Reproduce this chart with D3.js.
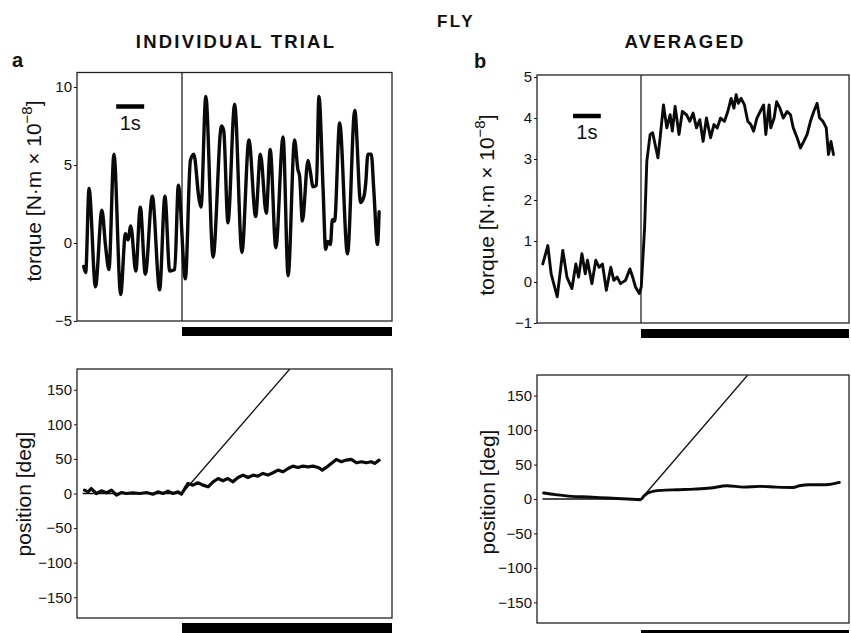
<!DOCTYPE html>
<html>
<head>
<meta charset="utf-8">
<script src="https://cdn.jsdelivr.net/npm/d3@7"></script>
<style>
  body { margin: 0; background: #fff; }
  svg { display: block; font-family: "Liberation Sans", Arial, Helvetica, sans-serif; }
</style>
</head>
<body>
<svg></svg>
<script>
// time in seconds from left edge of each panel, stimulus onset at 3.75 s
const stimOnset = 3.75;
const timeEnd = 11.25;

// a: individual trial torque [N·m × 10^-8]
const trialTorqueT = [0.24, 0.31, 0.43, 0.66, 0.89, 1.02, 1.14, 1.32, 1.56, 1.73, 1.82, 1.92, 2.1, 2.26, 2.44, 2.69, 2.95, 3.14, 3.31, 3.49, 3.62, 3.87,
  4.05, 4.17, 4.36, 4.43, 4.6, 4.86, 5.16, 5.24, 5.39, 5.63, 5.89, 6.14, 6.38, 6.55, 6.76, 6.9, 7.1, 7.36, 7.54, 7.77, 7.89, 7.95, 8.05,
  8.25, 8.33, 8.43, 8.55, 8.64, 8.79, 8.88, 8.96, 9.05, 9.12, 9.2, 9.38, 9.66, 9.92, 10.13, 10.25, 10.31, 10.39, 10.51, 10.6, 10.73, 10.79];
const trialTorqueV = [-1.5, -1.9, 3.5, -2.8, 2.1, -0.2, -1.7, 5.7, -3.3, 0.6, 0.2, 1.1, -1.8, 2.3, -2.0, 3.0, -3.0, 3.0, -1.8, -1.7, 3.7, -2.3,
  5.3, 5.7, 2.8, 2.3, 9.4, -0.9, 7.5, 7.2, 1.3, 8.9, -0.6, 6.6, 1.7, 5.7, 1.9, 6.0, -0.3, 6.8, -2.1, 6.6, 4.7, 4.3, 1.4,
  5.3, 4.6, 3.6, 3.7, 9.4, 3.4, -0.4, 0.1, -0.1, 1.5, 1.4, 7.7, -0.7, 8.5, 2.6, 3.0, 3.8, 5.7, 5.7, 3.4, -0.1, 2.0];

// b: averaged torque
const avgTorqueT = [0.21, 0.39, 0.51, 0.73, 0.93, 1.08, 1.26, 1.4, 1.5, 1.62, 1.74, 1.82, 1.98, 2.12, 2.24, 2.36, 2.5, 2.66, 2.77, 2.89,
  3.01, 3.19, 3.35, 3.45, 3.55, 3.69, 3.76, 3.88, 3.96, 4.08, 4.17, 4.36, 4.44, 4.56, 4.68, 4.8, 4.88, 4.98, 5.12, 5.24, 5.39, 5.51,
  5.63, 5.75, 5.87, 5.99, 6.11, 6.26, 6.38, 6.5, 6.62, 6.76, 6.88, 7.0, 7.1, 7.18, 7.26, 7.36, 7.48, 7.6, 7.71, 7.81, 7.93, 8.05,
  8.17, 8.25, 8.37, 8.43, 8.55, 8.64, 8.76, 8.88, 9.02, 9.14, 9.24, 9.38, 9.5, 9.62, 9.74, 9.86, 9.98, 10.1, 10.19, 10.31, 10.43,
  10.51, 10.6, 10.69];
const avgTorqueV = [0.44, 0.89, 0.2, -0.36, 0.77, 0.12, -0.16, 0.44, 0.12, 0.69, 0.2, 0.53, -0.04, 0.53, 0.36, 0.44, -0.2, 0.36, 0.04, 0.12,
  -0.04, 0.04, 0.32, 0.12, -0.12, -0.28, -0.12, 1.33, 2.95, 3.6, 3.64, 3.03, 3.52, 4.32, 3.76, 4.08, 3.68, 4.28, 3.6, 4.16, 4.08, 3.92,
  4.12, 3.76, 3.96, 3.43, 4.0, 3.52, 3.84, 3.76, 4.0, 3.92, 4.16, 4.48, 4.24, 4.57, 4.36, 4.48, 4.32, 3.92, 3.84, 3.68, 4.0, 4.16,
  4.32, 3.6, 4.32, 3.76, 4.0, 4.4, 4.24, 4.0, 4.16, 4.08, 3.76, 3.52, 3.27, 3.43, 3.6, 3.92, 4.16, 4.36, 4.0, 3.92, 3.76,
  3.11, 3.43, 3.11];

// a: individual trial position [deg]
const trialPosT = [0.27, 0.39, 0.51, 0.69, 0.87, 1.05, 1.23, 1.41, 1.58, 1.76, 2.0, 2.24, 2.48, 2.71, 2.89, 3.07, 3.25, 3.43, 3.61, 3.73,
  3.85, 3.96, 4.14, 4.32, 4.5, 4.68, 4.86, 5.04, 5.21, 5.39, 5.57, 5.75, 5.93, 6.11, 6.29, 6.46, 6.64, 6.82, 7.0, 7.18, 7.36, 7.54,
  7.71, 7.89, 8.07, 8.25, 8.43, 8.61, 8.76, 8.9, 9.08, 9.26, 9.44, 9.62, 9.8, 9.98, 10.16, 10.33, 10.51, 10.63, 10.79];
const trialPosV = [4.8, 2.4, 7.2, 0, 3.9, 1.0, 4.8, -2.4, 1.4, 0, 1.0, 0, 1.4, -1.0, 2.4, 0, 3.4, 0, 2.4, -1.0,
  7.2, 14.5, 12.1, 15.5, 12.1, 9.7, 16.9, 21.7, 18.4, 21.7, 16.9, 23.2, 26.6, 23.2, 26.6, 25.1, 29.0, 26.6, 30.0, 33.8, 31.4, 36.2,
  39.6, 37.7, 39.6, 38.6, 39.6, 37.7, 33.8, 37.7, 43.5, 49.3, 45.9, 48.3, 49.3, 44.4, 45.9, 44.4, 45.9, 43.5, 48.3];

// b: averaged position [deg]
const avgPosT = [0.24, 0.66, 1.25, 1.85, 2.56, 3.27, 3.73, 3.87, 4.05, 4.46, 5.06, 5.66, 6.25, 6.85, 7.44, 8.04, 8.63, 9.23, 9.46, 9.82, 10.42, 10.9];
const avgPosV = [8.7, 6.3, 3.8, 2.9, 1.4, 0, -1.0, 4.8, 9.6, 12.5, 13.5, 14.4, 15.9, 19.2, 17.3, 18.3, 17.3, 16.8, 19.2, 20.7, 20.7, 24.0];

// pattern (stimulus) position [deg]
const patternT = [0.2, 3.75, 7.6];
const patternV = [0, 0, 180];

// 1 s scale bars (start time, value level)
const scaleBarTrial = [1.4, 8.75];
const scaleBarAvg = [1.3, 4.05];

const torqueTicksA = [-5, 0, 5, 10];
const torqueTicksB = [-1, 0, 1, 2, 3, 4, 5];
const posTicks = [-150, -100, -50, 0, 50, 100, 150];

const svg = d3.select('svg').attr('width', 851).attr('height', 633);

const panels = [
  { id: 'ta', x0: 77, x1: 392, y0: 72.5, y1: 321, dom: [-5, 10.93], ticks: torqueTicksA, t: trialTorqueT, v: trialTorqueV,
    curve: d3.curveMonotoneX, sw: 3.4, bar: [6, 9], stimLine: true, scaleBar: scaleBarTrial, label: 'torque', labelX: 41, labelY: 191 },
  { id: 'tb', x0: 537, x1: 849, y0: 75, y1: 323, dom: [-1, 5.05], ticks: torqueTicksB, t: avgTorqueT, v: avgTorqueV,
    curve: d3.curveLinear, sw: 2.9, bar: [6, 9], stimLine: true, scaleBar: scaleBarAvg, label: 'torque', labelX: 494, labelY: 205 },
  { id: 'pa', x0: 77, x1: 392, y0: 369, y1: 618, dom: [-180, 180], ticks: posTicks, t: trialPosT, v: trialPosV,
    curve: d3.curveLinear, sw: 3.2, bar: [5, 10], pattern: true, label: 'position', labelX: 30.5, labelY: 494 },
  { id: 'pb', x0: 537, x1: 849, y0: 375, y1: 623, dom: [-180, 180], ticks: posTicks, t: avgPosT, v: avgPosV,
    curve: d3.curveMonotoneX, sw: 2.9, bar: [7, 10], pattern: true, label: 'position', labelX: 495, labelY: 492 }
];

panels.forEach(p => {
  const x = d3.scaleLinear().domain([0, timeEnd]).range([p.x0, p.x1]);
  const y = d3.scaleLinear().domain(p.dom).range([p.y1, p.y0]);

  svg.append('clipPath').attr('id', 'clip-' + p.id)
    .append('rect')
    .attr('x', p.x0).attr('y', p.y0)
    .attr('width', p.x1 - p.x0).attr('height', p.y1 - p.y0);

  const g = svg.append('g');

  const yAxisG = g.append('g')
    .attr('transform', `translate(${p.x0},0)`)
    .call(d3.axisLeft(y).tickValues(p.ticks).tickSize(3).tickPadding(2)
      .tickFormat(d => d < 0 ? '\u2212' + Math.abs(d) : d));
  yAxisG.select('.domain').remove();
  yAxisG.selectAll('text').attr('font-size', 15).attr('fill', '#111')
    .attr('font-family', '"Liberation Sans", Arial, sans-serif');
  yAxisG.selectAll('line').attr('stroke', '#111');

  const plot = g.append('g').attr('clip-path', `url(#clip-${p.id})`);

  if (p.stimLine) {
    plot.append('line')
      .attr('x1', x(stimOnset)).attr('x2', x(stimOnset))
      .attr('y1', p.y0).attr('y2', p.y1)
      .attr('stroke', '#111').attr('stroke-width', 1.2);
  }

  if (p.pattern) {
    const patLine = d3.line().x((d, i) => x(patternT[i])).y(d => y(d));
    plot.append('path')
      .attr('d', patLine(patternV))
      .attr('fill', 'none').attr('stroke', '#111').attr('stroke-width', 1.3);
  }

  const line = d3.line()
    .x((d, i) => x(p.t[i]))
    .y(d => y(d))
    .curve(p.curve);

  plot.append('path')
    .attr('d', line(p.v))
    .attr('fill', 'none')
    .attr('stroke', '#0a0a0a')
    .attr('stroke-width', p.sw)
    .attr('stroke-linejoin', 'round')
    .attr('stroke-linecap', 'round');

  // frame
  g.append('rect')
    .attr('x', p.x0).attr('y', p.y0)
    .attr('width', p.x1 - p.x0).attr('height', p.y1 - p.y0)
    .attr('fill', 'none').attr('stroke', '#222').attr('stroke-width', 1.3);

  // stimulus bar below the panel
  g.append('rect')
    .attr('x', x(stimOnset)).attr('y', p.y1 + p.bar[0])
    .attr('width', x(timeEnd) - x(stimOnset)).attr('height', p.bar[1])
    .attr('fill', '#000');

  if (p.scaleBar) {
    const [s0, lv] = p.scaleBar;
    g.append('line')
      .attr('x1', x(s0)).attr('x2', x(s0 + 1))
      .attr('y1', y(lv)).attr('y2', y(lv))
      .attr('stroke', '#000').attr('stroke-width', 4.5);
    g.append('text')
      .attr('x', x(s0 + 0.5)).attr('y', y(lv) + 23)
      .attr('text-anchor', 'middle')
      .attr('font-size', 20).attr('fill', '#111')
      .text('1s');
  }

  const lab = g.append('text')
    .attr('transform', `translate(${p.labelX},${p.labelY}) rotate(-90)`)
    .attr('text-anchor', 'middle')
    .attr('font-size', 21).attr('fill', '#111');
  if (p.label === 'torque') {
    lab.append('tspan').text('torque [N\u00B7m \u00D7 10');
    lab.append('tspan').attr('dy', -9).attr('font-size', 15).text('\u22128');
    lab.append('tspan').attr('dy', 9).text(']');
  } else {
    lab.text('position [deg]');
  }
});

// headings
const heading = (txt, cx, cy, size, spacing) => svg.append('text')
  .attr('x', cx).attr('y', cy)
  .attr('text-anchor', 'middle')
  .attr('font-weight', 'bold')
  .attr('font-size', size)
  .attr('letter-spacing', spacing)
  .attr('fill', '#111')
  .text(txt);

heading('FLY', 456, 27, 17, 2.5);
heading('INDIVIDUAL TRIAL', 236, 48, 18.5, 2.2);
heading('AVERAGED', 685, 48, 18.5, 2.2);

svg.append('text').attr('x', 12).attr('y', 67)
  .attr('font-weight', 'bold').attr('font-size', 20).attr('fill', '#111').text('a');
svg.append('text').attr('x', 474).attr('y', 68)
  .attr('font-weight', 'bold').attr('font-size', 20).attr('fill', '#111').text('b');
</script>
</body>
</html>
